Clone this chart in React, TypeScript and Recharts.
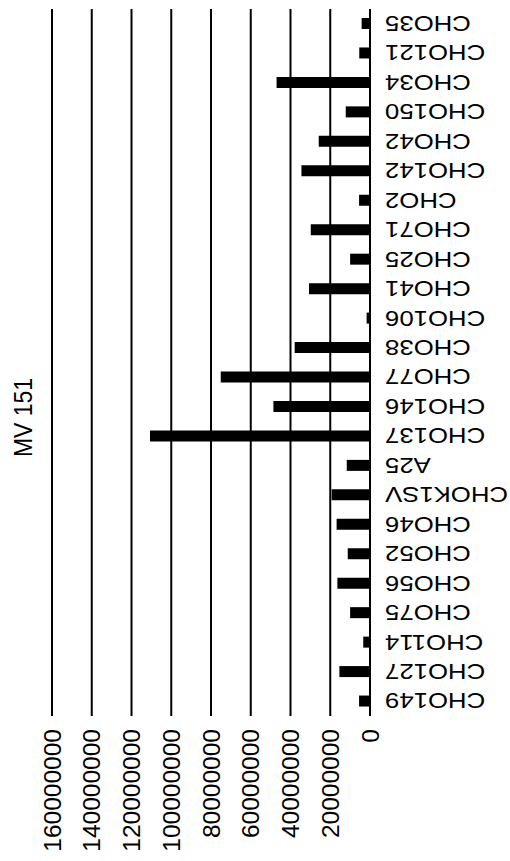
import React from 'react';
import { BarChart, Bar, XAxis, YAxis, CartesianGrid } from 'recharts';

const categories = ['CHO149','CHO127','CHO114','CHO75','CHO56','CHO52','CHO46','CHOK1SV','A25','CHO137','CHO146','CHO77','CHO38','CHO106','CHO41','CHO25','CHO71','CHO2','CHO142','CHO42','CHO150','CHO34','CHO121','CHO35'];
const values = [5500000,15400000,3400000,10000000,16400000,11200000,16800000,19300000,11700000,110700000,48600000,75100000,37900000,1700000,30700000,10000000,29800000,5500000,34500000,25800000,12200000,47000000,5400000,4200000];
const valueTicks = [0,20000000,40000000,60000000,80000000,100000000,120000000,140000000,160000000];
const title = 'MV 151';

const data = categories.map((name, i) => ({ name, value: values[i] }));
const FONT = '"Liberation Sans", Arial, sans-serif';

const ValueTick = (props: any) => {
  const { x, y, payload } = props;
  const ty = y + 13;
  return (
    <text x={x} y={ty} transform={`rotate(-90 ${x} ${ty})`} textAnchor="end" dominantBaseline="central" fontSize={24.5} fontFamily={FONT} fill="#000">
      {payload.value}
    </text>
  );
};

const CatTick = (props: any) => {
  const { x, y, payload } = props;
  const ax = x + 15;
  return (
    <text x={0} y={0} transform={`translate(${ax} ${y}) rotate(180) scale(1.03 0.88)`} textAnchor="end" dominantBaseline="central" fontSize={25} fontFamily={FONT} fill="#000">
      {payload.value}
    </text>
  );
};

export default function App() {
  return (
    <div style={{ position: 'absolute', left: 0, top: 0, width: 510, height: 861, background: '#fff' }}>
      <BarChart width={510} height={861} data={data} layout="vertical" margin={{ top: 9, right: 0, bottom: 0, left: 52 }}>
        <CartesianGrid horizontal={false} vertical={true} stroke="#000" strokeWidth={2} />
        <XAxis type="number" domain={[0, 160000000]} ticks={valueTicks} reversed axisLine={false} tickLine={false} tickSize={0} tickMargin={0} height={145} tick={<ValueTick />} interval={0} />
        <YAxis type="category" dataKey="name" orientation="right" reversed width={140} axisLine={{ stroke: '#000', strokeWidth: 2 }} tickLine={false} tickSize={0} tickMargin={0} tick={<CatTick />} interval={0} />
        <Bar dataKey="value" fill="#000" barSize={11} isAnimationActive={false} />
      </BarChart>
      <svg width={510} height={861} style={{ position: 'absolute', left: 0, top: 0, pointerEvents: 'none' }}>
        <text x={0} y={0} transform="translate(22.5 417.5) rotate(-90) scale(1 1.15)" textAnchor="middle" dominantBaseline="central" fontSize={23} fontFamily={FONT} fill="#000">
          {title}
        </text>
      </svg>
    </div>
  );
}
